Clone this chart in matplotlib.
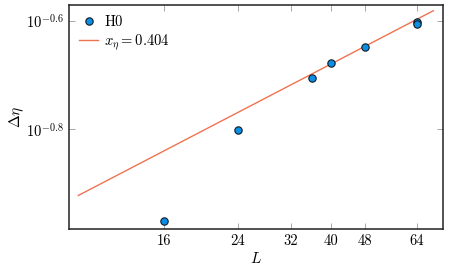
import matplotlib
matplotlib.use('Agg')
import matplotlib.pyplot as plt
import numpy as np
from matplotlib.ticker import FixedLocator, NullLocator

plt.rcParams['mathtext.fontset'] = 'cm'
plt.rcParams['font.family'] = 'serif'
plt.rcParams['font.serif'] = ['cmr10', 'DejaVu Serif']
plt.rcParams['axes.formatter.use_mathtext'] = True

# data
L = [16, 24, 36, 40, 48, 64, 64]
deta = [0.1070, 0.1578, 0.1972, 0.2100, 0.2249, 0.2495, 0.2480]
x_eta = 0.404
log_amp = -1.327
L_fit = [10.0, 70.0]
xticks = [16, 24, 32, 40, 48, 64]
yticks = [10 ** -0.8, 10 ** -0.6]
ytick_labels = ['$10^{-0.8}$', '$10^{-0.6}$']

fig = plt.figure(figsize=(4.49, 2.69), dpi=100)
ax = fig.add_axes([0.1537, 0.1487, 0.8329, 0.8327])

ax.plot(L, deta, 'o', color='#0a8fe6', markeredgecolor='#111a24',
        markeredgewidth=0.8, markersize=5.3, label='H0', zorder=3)
fit = [10 ** log_amp * l ** x_eta for l in L_fit]
ax.plot(L_fit, fit, '-', color='#ef7350', lw=1.0, label=r'$x_\eta = 0.404$')

ax.set_xscale('log')
ax.set_yscale('log')
ax.set_xlim(9.5, 73.8)
ax.set_ylim(10 ** -0.985, 10 ** -0.571)

ax.xaxis.set_major_locator(FixedLocator(xticks))
ax.set_xticklabels([str(t) for t in xticks])
ax.xaxis.set_minor_locator(NullLocator())
ax.yaxis.set_major_locator(FixedLocator(yticks))
ax.set_yticklabels(ytick_labels)
ax.yaxis.set_minor_locator(NullLocator())

ax.tick_params(which='both', direction='in', top=True, right=True,
               length=4, width=0.6, color='#999999', labelsize=10.5, pad=4)
for s in ax.spines.values():
    s.set_linewidth(1.1)
    s.set_color('#222222')

ax.set_xlabel('$L$', fontsize=11, labelpad=2)
ax.set_ylabel(r'$\Delta\eta$', fontsize=11, labelpad=0)

ax.legend(loc='upper left', frameon=False, fontsize=10.5, handlelength=1.3,
          handletextpad=0.4, borderaxespad=0.3, labelspacing=0.2, numpoints=1)

fig.savefig('out.png', dpi=100)
